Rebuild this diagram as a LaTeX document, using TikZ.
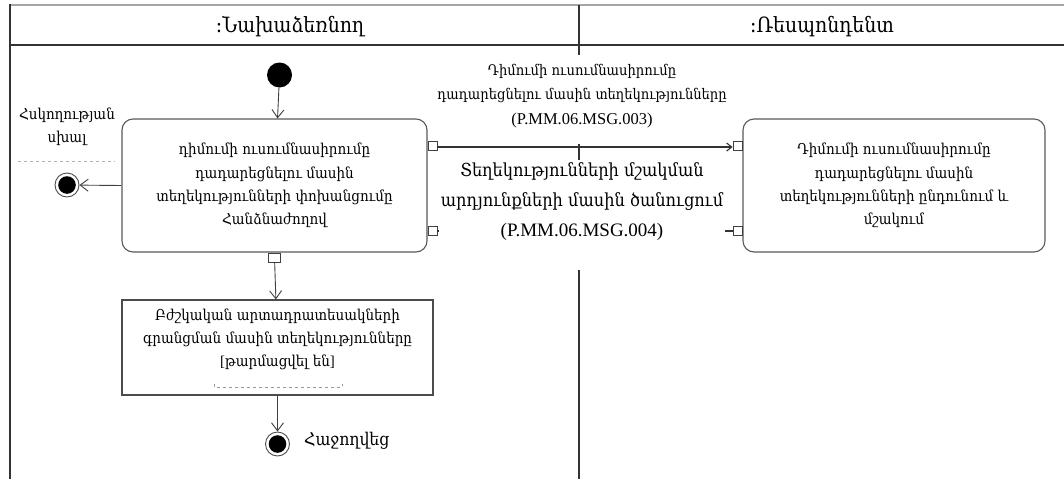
\documentclass[tikz,border=0pt]{standalone}
\usepackage{fontspec}
\setmainfont{DejaVu Serif Condensed}
\newfontfamily\latinfont{Liberation Serif}
\usetikzlibrary{arrows.meta}

\tikzset{
  frameline/.style={draw=black!80, line width=1.6pt},
  action/.style={draw=black!65, line width=1.1pt, rounded corners=11pt, fill=white,
                 align=center, font=\fontsize{15}{23.3}\selectfont},
  objbox/.style={draw=black!70, line width=1.1pt, fill=white},
  pinbox/.style={draw=black!75, line width=0.9pt, fill=white, inner sep=0pt,
                 minimum width=9pt, minimum height=9pt},
  initnode/.style={circle, fill=black, inner sep=0pt, minimum size=25pt},
  finalnode/.style={circle, draw=black!70, line width=0.9pt, fill=white, inner sep=0pt,
                    minimum size=24pt,
                    path picture={\fill[black] (path picture bounding box.center) circle (8.8pt);}},
  flow/.style={draw=black!75, line width=0.9pt,
               -{Straight Barb[length=8pt, width=12pt, line width=0.9pt]}},
  msg/.style={draw=black!80, line width=1.1pt},
  msglabel/.style={fill=white, inner sep=2pt, align=center},
  plain/.style={inner sep=0pt, align=center},
}

\begin{document}
\begin{tikzpicture}[x=1pt, y=-1pt]
  \useasboundingbox (0,0) rectangle (1064,479);

  % swimlane frame; the lane divider is interrupted by the message labels
  \draw[draw=black!35, line width=2.2pt] (10,5) -- (1064,5);
  \draw[frameline] (10,4) -- (10,479);
  \draw[draw=black!80, line width=2.4pt] (10,45) -- (1064,45);
  \draw[frameline] (579,5) -- (579,55);
  \draw[frameline] (579,144) -- (579,160);
  \draw[frameline] (579,270) -- (579,479);
  \node[plain, font=\fontsize{21}{23}\selectfont] (laneA) at (290,27) {:Նախաձեռնող};
  \node[plain, font=\fontsize{21}{23}\selectfont] (laneB) at (822,27) {:Ռեսպոնդենտ};

  % activities
  \node[initnode] (start) at (279.5,75) {};
  \node[action, minimum width=305pt, minimum height=133pt] (act1) at (274.5,185.5)
    {դիմումի ուսումնասիրումը\\դադարեցնելու մասին\\տեղեկությունների փոխանցումը\\Հանձնաժողով};
  \node[action, minimum width=302pt, minimum height=133pt] (act2) at (894,185.5)
    {Դիմումի ուսումնասիրումը\\դադարեցնելու մասին\\տեղեկությունների ընդունում և\\մշակում};
  \node[objbox, minimum width=311pt, minimum height=95pt] (obj) at (277.5,347.5) {};
  \node[plain, font=\fontsize{15}{23}\selectfont] (objtext) at (277.5,339)
    {Բժշկական արտադրատեսակների\\գրանցման մասին տեղեկությունները\\{\latinfont[}թարմացվել են{\latinfont]}};

  % final nodes
  \node[finalnode] (failEnd) at (67,185) {};
  \node[finalnode] (okEnd) at (277.5,444) {};
  \node[plain, font=\fontsize{15}{23}\selectfont, align=center] (failText) at (67,127)
    {Հսկողության\\սխալ};
  \node[plain, font=\fontsize{17.5}{20}\selectfont, anchor=west] (okText) at (304,441) {Հաջողվեց};
  \draw[draw=black!30, dashed, line width=0.6pt] (18,161) -- (115,161);
  \draw[draw=black!40, dashed, line width=0.6pt] (214,384) -- (214,387) -- (342,387) -- (342,384);

  % pins
  \node[pinbox, minimum width=12pt, anchor=north] (pinOut) at (act1.south) {};
  \node[pinbox, anchor=west] (pinReqOut) at ([yshift=40pt]act1.east) {};
  \node[pinbox, anchor=east] (pinReqIn) at ([yshift=40pt]act2.west) {};
  \node[pinbox, anchor=east] (pinRespOut) at ([yshift=-45.5pt]act2.west) {};
  \node[pinbox, anchor=west] (pinRespIn) at ([yshift=-45.5pt]act1.east) {};

  % control flows
  \draw[flow] (start) -- (act1);
  \draw[flow] (act1.west) -- (failEnd);
  \draw[flow] (pinOut) -- (obj);
  \draw[flow] (obj) -- (okEnd);

  % message flows
  \draw[msg, -{Straight Barb[length=5pt, width=8pt]}] ([yshift=-1.5pt]pinReqOut.east) -- ([yshift=-1.5pt]pinReqIn.west);
  \draw[msg] (pinRespOut.west) -- (pinRespIn.east);

  % message labels
  \node[plain, font=\fontsize{14.6}{24.5}\selectfont] (msgReq) at (582,96)
    {Դիմումի ուսումնասիրումը\\դադարեցնելու մասին տեղեկությունները\\{\latinfont\fontsize{16.5}{24.5}\selectfont(P.MM.06.MSG.003)}};
  \node[msglabel, font=\fontsize{18}{30}\selectfont] (msgResp) at (582,202)
    {Տեղեկությունների մշակման\\արդյունքների մասին ծանուցում\\{\latinfont\fontsize{19}{30}\selectfont(P.MM.06.MSG.004)}};
\end{tikzpicture}
\end{document}
